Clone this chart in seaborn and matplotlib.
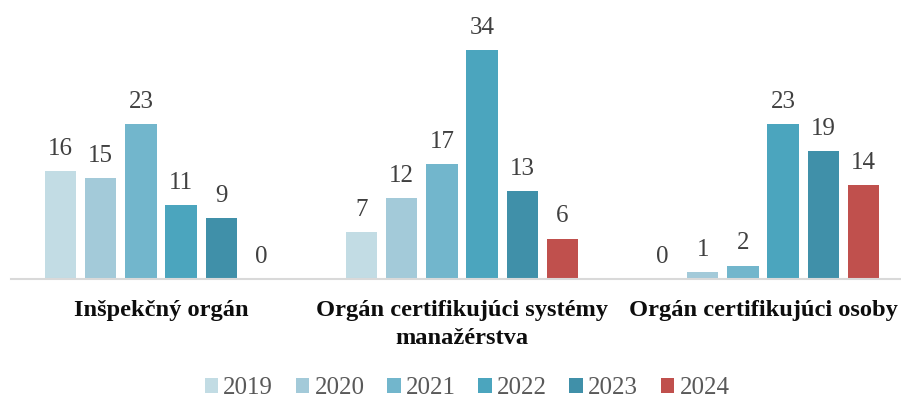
import matplotlib
matplotlib.use("Agg")
import matplotlib.pyplot as plt
import seaborn as sns
import pandas as pd
from matplotlib.patches import Patch

categories = ["Inšpekčný orgán", "Orgán certifikujúci systémy\nmanažérstva", "Orgán certifikujúci osoby"]
years = ["2019", "2020", "2021", "2022", "2023", "2024"]
values = {
    "2019": [16, 7, 0],
    "2020": [15, 12, 1],
    "2021": [23, 17, 2],
    "2022": [11, 34, 23],
    "2023": [9, 13, 19],
    "2024": [0, 6, 14],
}
colors = ["#C2DCE4", "#A3CAD9", "#72B6CC", "#4BA5BE", "#4090A9", "#C0504D"]

rows = []
for y in years:
    for c, v in zip(categories, values[y]):
        rows.append({"cat": c, "year": y, "val": v})
df = pd.DataFrame(rows)

sns.set_theme(style="white")
plt.rcParams['font.family'] = ['Liberation Serif', 'DejaVu Serif']

fig = plt.figure(figsize=(9.01, 4.01), dpi=100)
W, H = 901, 401
ax = fig.add_axes([10.5 / W, (H - 279) / H, 903 / W, 269.6 / H])

sns.barplot(data=df, x="cat", y="val", hue="year", order=categories, hue_order=years,
            palette=colors, width=0.8, gap=0.22, linewidth=0, saturation=1,
            ax=ax, legend=False)

for cont in ax.containers:
    ax.bar_label(cont, padding=8, fontsize=18, color="#404040")

ax.set_xlim(-0.5, 2.5)
ax.set_ylim(0, 40)
ax.set_xlabel("")
ax.set_ylabel("")
ax.set_yticks([])
for s in ["top", "left", "right"]:
    ax.spines[s].set_visible(False)
ax.spines["bottom"].set_color("#D9D9D9")
ax.spines["bottom"].set_linewidth(1.5)
ax.tick_params(axis="x", length=0, pad=15)
for lab in ax.get_xticklabels():
    lab.set_fontweight("bold")
    lab.set_fontsize(17.6)
    lab.set_color("#0D0D0D")
    lab.set_linespacing(1.45)

handles = [Patch(facecolor=c, edgecolor="none", label=y) for c, y in zip(colors, years)]
leg = fig.legend(handles=handles, loc="center", bbox_to_anchor=(467 / W, 13 / H), ncol=6,
                 frameon=False, fontsize=18, handlelength=0.55, handleheight=0.55,
                 handletextpad=0.2, columnspacing=0.9, borderaxespad=0)
for t in leg.get_texts():
    t.set_color("#595959")

fig.savefig("out.png", dpi=100)
